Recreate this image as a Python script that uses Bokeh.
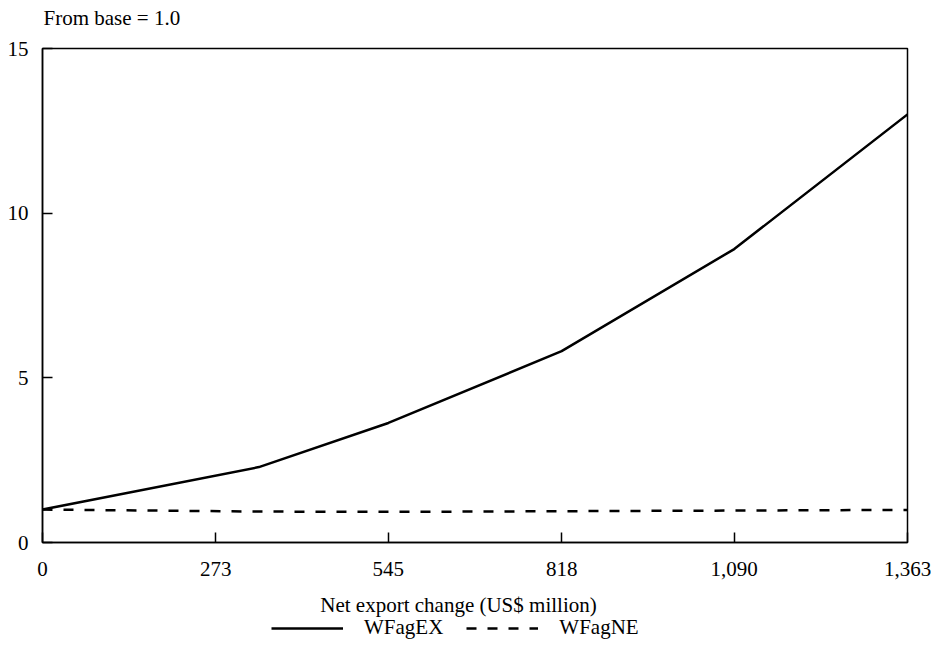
from bokeh.plotting import figure
from bokeh.layouts import column
from bokeh.models import Range1d, FixedTicker, Legend, LegendItem, Label
from bokeh.embed import file_html
from bokeh.resources import INLINE

# Data
net_export = [0, 341, 545, 818, 1090, 1363]
wfagex = [1.0, 2.29, 3.63, 5.81, 8.91, 13.0]
wfagne = [1.0, 0.94, 0.93, 0.95, 0.97, 0.99]
x_ticks = [0, 273, 545, 818, 1090, 1363]
x_tick_labels = ["0", "273", "545", "818", "1,090", "1,363"]
y_ticks = [0, 5, 10, 15]
series_names = ["WFagEX", "WFagNE"]
y_title = "From base = 1.0"
x_title = "Net export change (US$ million)"

FONT = "Liberation Serif"
FS = "21px"
W = 931


def blank(height):
    f = figure(width=W, height=height, output_backend="svg", toolbar_location=None,
               x_range=Range1d(0, 1), y_range=Range1d(0, 1),
               x_axis_type=None, y_axis_type=None, min_border=0)
    f.outline_line_color = None
    f.background_fill_color = "white"
    f.border_fill_color = "white"
    f.grid.visible = False
    return f


def caption(fig, text, x, y, align):
    fig.add_layout(Label(x=x, y=y, x_units="screen", y_units="screen", text=text,
                         text_font=FONT, text_font_size=FS, text_color="black",
                         text_align=align, text_baseline="middle"))


# --- top strip with the y-axis title ---
t = blank(36)
caption(t, y_title, 1, 19, "left")

# --- main chart ---
p = figure(width=W, height=550, output_backend="svg", toolbar_location=None,
           x_range=Range1d(0, 1363), y_range=Range1d(0, 15),
           min_border_left=42, min_border_right=24, min_border_top=12, min_border_bottom=44)
p.background_fill_color = "white"
p.border_fill_color = "white"
p.outline_line_color = "black"
p.outline_line_width = 1.5
p.grid.visible = False

for ax in (p.xaxis[0], p.yaxis[0]):
    ax.axis_line_color = "black"
    ax.axis_line_width = 1.5
    ax.major_tick_line_color = "black"
    ax.major_tick_line_width = 1.5
    ax.major_tick_in = 10
    ax.major_tick_out = 0
    ax.minor_tick_line_color = None
    ax.major_label_text_font = FONT
    ax.major_label_text_font_size = FS
    ax.major_label_text_color = "black"

p.xaxis.major_label_standoff = 19
p.yaxis.major_label_standoff = 14
p.xaxis.ticker = FixedTicker(ticks=x_ticks)
p.xaxis.major_label_overrides = {t_: l for t_, l in zip(x_ticks, x_tick_labels)}
p.yaxis.ticker = FixedTicker(ticks=y_ticks)

p.line(net_export, wfagex, line_color="black", line_width=2.5)
p.line(net_export, wfagne, line_color="black", line_width=2.5, line_dash="10 11")

# --- bottom strip: x-axis title and legend ---
q = blank(54)
caption(q, x_title, 416, 36, "center")
# legend keys (single off-range point, so nothing is drawn in the strip itself)
l1 = q.line(x=[-10], y=[-10], line_color="black", line_width=2.5)
l2 = q.line(x=[-10], y=[-10], line_color="black", line_width=2.5, line_dash="10 11")
legend = Legend(items=[LegendItem(label=series_names[0], renderers=[l1]),
                       LegendItem(label=series_names[1], renderers=[l2])],
                orientation="horizontal", location=(229, 0),
                border_line_color=None, background_fill_alpha=0,
                padding=0, margin=0, spacing=23,
                glyph_width=72, glyph_height=20, label_standoff=21,
                label_text_font=FONT, label_text_font_size=FS, label_text_color="black")
q.add_layout(legend, "center")

layout = column(t, p, q, spacing=0)
open("out.html", "w").write(file_html(layout, INLINE))
